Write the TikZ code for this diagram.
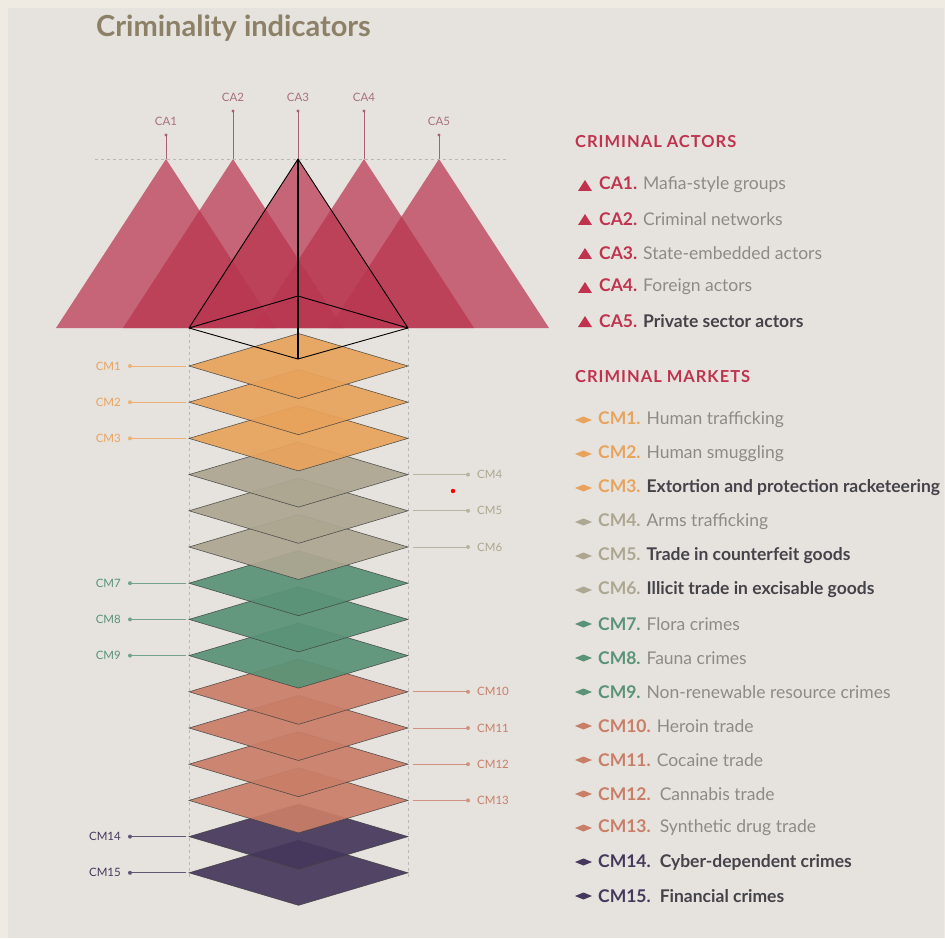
\documentclass[tikz,border=0pt]{standalone}
\usepackage{fontspec}
\setmainfont{Lato}
\usetikzlibrary{positioning}
\definecolor{bgmain}{HTML}{E6E3DE}
\definecolor{bgedge}{HTML}{EFEBE3}
\definecolor{titlebrown}{HTML}{8C8067}
\definecolor{actorred}{HTML}{B93550}
\definecolor{actorhead}{HTML}{C0334F}
\definecolor{actorlab}{HTML}{A8707C}
\definecolor{stemred}{HTML}{A86070}
\definecolor{mkorange}{HTML}{E8A35C}
\definecolor{mkgray}{HTML}{ADA691}
\definecolor{mkgreen}{HTML}{5A9377}
\definecolor{mksalmon}{HTML}{C97E68}
\definecolor{mkpurple}{HTML}{46385C}
\definecolor{desclight}{HTML}{8E8A85}
\definecolor{descdark}{HTML}{45434A}

\begin{document}
\begin{tikzpicture}[
    x=1pt, y=-1pt,
    layer/.style={draw=black!75, line width=0.6pt, fill opacity=0.93, draw opacity=0.85},
    actor/.style={fill=actorred, fill opacity=0.72},
    guide/.style={draw=black!28, dashed, line width=0.7pt},
    wire/.style={draw=black, line width=0.9pt, line join=round},
    cmlabel/.style={font=\fontsize{11.5}{13}\selectfont, inner sep=1pt},
    calabel/.style={font=\fontsize{11.5}{13}\selectfont, text=actorlab, inner sep=1pt},
    legend/.style={anchor=west, font=\fontsize{17.5}{20}\selectfont, inner sep=0pt},
    heading/.style={anchor=west, font=\fontsize{16.5}{20}\selectfont\bfseries\addfontfeatures{LetterSpace=6}, text=actorhead, inner sep=0pt}
]

% Background
\fill[bgedge] (0,0) rectangle (945,938);
\fill[bgmain] (8,8) rectangle (945,938);
\draw[bgedge, line width=1pt] (944.5,8) -- (944.5,938);
\useasboundingbox (0,0) rectangle (945,938);

% Title
\node[anchor=west, font=\fontsize{29}{33}\selectfont\bfseries, text=titlebrown, inner sep=0pt] (title) at (96,28) {Criminality indicators};

% Actor triangles
\foreach \ax in {166,233,298,364,439} {
  \fill[actor] (\ax,159) -- (\ax+110,328) -- (\ax-110,328) -- cycle;
}
\coordinate (guideL) at (95,159);
\coordinate (guideR) at (507,159);
\draw[guide] (guideL) -- (guideR);
\foreach \ax/\tp/\name in {166/135/CA1, 233/111/CA2, 298/111/CA3, 364/111/CA4, 439/135/CA5} {
  \coordinate (base\name) at (\ax,159);
  \coordinate (stem\name) at (\ax,\tp);
  \draw[stemred, line width=0.9pt] (base\name) -- (stem\name);
  \fill[stemred] (stem\name) circle (1.7pt);
  \node[calabel, anchor=south] (lab\name) at (\ax,\tp-8) {\name};
}

% Side guides
\coordinate (sideLt) at (189,328); \coordinate (sideLb) at (189,878);
\coordinate (sideRt) at (408,328); \coordinate (sideRb) at (408,878);
\draw[guide] (sideLt) -- (sideLb);
\draw[guide] (sideRt) -- (sideRb);

% Market layers
\foreach \i/\col in {15/mkpurple,14/mkpurple,13/mksalmon,12/mksalmon,11/mksalmon,10/mksalmon,9/mkgreen,8/mkgreen,7/mkgreen,6/mkgray,5/mkgray,4/mkgray,3/mkorange,2/mkorange,1/mkorange} {
  \pgfmathsetmacro\ym{366+(\i-1)*36.2}
  \coordinate (L\i) at (189,\ym);
  \coordinate (R\i) at (408,\ym);
  \coordinate (T\i) at (298.5,\ym-32.5);
  \coordinate (B\i) at (298.5,\ym+32.5);
  \filldraw[layer, fill=\col] (L\i) -- (T\i) -- (R\i) -- (B\i) -- cycle;
}

% Layer labels
\foreach \i/\col in {1/mkorange,2/mkorange,3/mkorange,7/mkgreen,8/mkgreen,9/mkgreen,14/mkpurple,15/mkpurple} {
  \coordinate (dot\i) at ([xshift=-59pt]L\i);
  \draw[\col!85, line width=1pt] (dot\i) -- ([xshift=-3pt]L\i);
  \fill[\col!85] (dot\i) circle (2pt);
  \node[cmlabel, anchor=east, text=\col] (lab\i) at ([xshift=-67pt]L\i) {CM\i};
}
\foreach \i/\col in {4/mkgray,5/mkgray,6/mkgray,10/mksalmon,11/mksalmon,12/mksalmon,13/mksalmon} {
  \coordinate (dot\i) at ([xshift=60pt]R\i);
  \draw[\col!85, line width=1pt] ([xshift=5pt]R\i) -- (dot\i);
  \fill[\col!85] (dot\i) circle (2pt);
  \node[cmlabel, anchor=west, text=\col] (lab\i) at ([xshift=68pt]R\i) {CM\i};
}

% Pyramid wireframe
\coordinate (apex) at (298,159);
\coordinate (baseL) at (189,328);
\coordinate (baseR) at (408,328);
\coordinate (back) at (298,296);
\coordinate (front) at (298,359);
\draw[wire] (baseL) -- (apex) -- (baseR) -- (back) -- cycle;
\draw[wire] (baseL) -- (front) -- (baseR);
\draw[wire, line width=1.6pt] (apex) -- (front);

\fill[red] (453,491) circle (2.2pt);

% Legend: actors
\node[heading] (cahead) at (575,142) {CRIMINAL ACTORS};
\foreach \i/\dcol/\wt/\desc in {1/desclight/\mdseries/Mafia-style groups, 2/desclight/\mdseries/Criminal networks, 3/desclight/\mdseries/State-embedded actors, 4/desclight/\mdseries/Foreign actors, 5/descdark/\bfseries/Private sector actors} {
  \pgfmathsetmacro\yr{185+(\i-1)*34}
  \fill[actorhead] (578,\yr+6) -- (585,\yr-5) -- (592,\yr+6) -- cycle;
  \node[legend] (ca\i) at (599,\yr) {{\bfseries\color{actorhead}CA\i.} {\wt\color{\dcol}\desc}};
}

% Legend: markets
\node[heading] (cmhead) at (575,377) {CRIMINAL MARKETS};
\foreach \i/\col/\dcol/\wt/\desc in {
  1/mkorange/desclight/\mdseries/Human trafficking,
  2/mkorange/desclight/\mdseries/Human smuggling,
  3/mkorange/descdark/\bfseries/Extortion and protection racketeering,
  4/mkgray/desclight/\mdseries/Arms trafficking,
  5/mkgray/descdark/\bfseries/Trade in counterfeit goods,
  6/mkgray/descdark/\bfseries/Illicit trade in excisable goods,
  7/mkgreen/desclight/\mdseries/Flora crimes,
  8/mkgreen/desclight/\mdseries/Fauna crimes,
  9/mkgreen/desclight/\mdseries/Non-renewable resource crimes,
  10/mksalmon/desclight/\mdseries/Heroin trade,
  11/mksalmon/desclight/\mdseries/Cocaine trade,
  12/mksalmon/desclight/\mdseries/{\hspace{3pt}Cannabis trade},
  13/mksalmon/desclight/\mdseries/{\hspace{3pt}Synthetic drug trade},
  14/mkpurple/descdark/\bfseries/{\hspace{3pt}Cyber-dependent crimes},
  15/mkpurple/descdark/\bfseries/{\hspace{3pt}Financial crimes}} {
  \pgfmathsetmacro\yr{420+(\i-1)*34}
  \fill[\col] (575,\yr) -- (583.5,\yr-3.5) -- (592,\yr) -- (583.5,\yr+3.5) -- cycle;
  \node[legend] (cm\i) at (598,\yr) {{\bfseries\color{\col}CM\i.} {\wt\color{\dcol}\desc}};
}

\end{tikzpicture}
\end{document}
